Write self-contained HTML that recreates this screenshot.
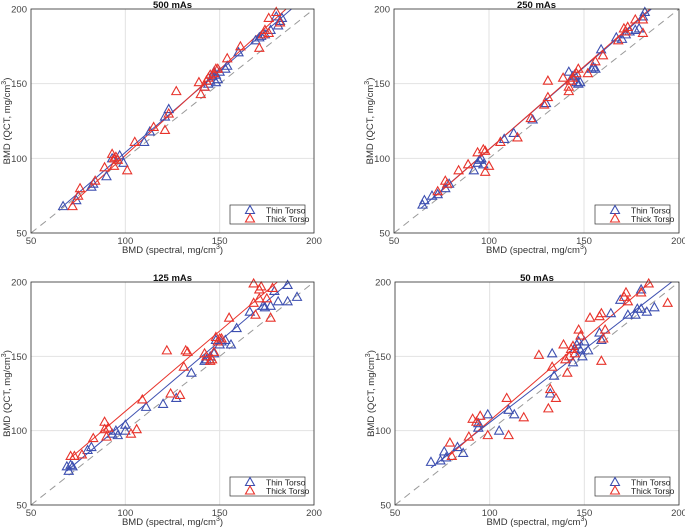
<!DOCTYPE html>
<html><head><meta charset="utf-8"><style>
body{margin:0;background:#fff;}
svg{display:block;font-family:"Liberation Sans",Arial,sans-serif;}
</style></head><body>
<svg id="chart" width="685" height="530" viewBox="0 0 685 530" xmlns="http://www.w3.org/2000/svg"></svg>
<script>
const titles = ["500 mAs","250 mAs","125 mAs","50 mAs"];
const ticks = [50,100,150,200];
// 500 mAs
const thin500X = [67,74,82,83,90,93,97,99,110,113,121,123,142,144,145,146,147,148,148,149,150,153,154,160,169,171,172,174,177,181,182,183,180];
const thin500Y = [68,72,81,83,88,100,102,97,111,118,128,133,148,150,152,155,158,156,151,153,158,160,162,171,179,181,182,183,186,189,192,194,195];
const thick500X = [72,75,76,84,89,93,94,95,96,94,101,105,115,121,123,127,139,140,142,143,144,145,147,148,149,154,161,171,173,174,176,176,180,182];
const thick500Y = [68,75,80,85,94,103,100,101,99,95,92,111,121,119,130,145,151,143,148,152,154,156,157,160,160,167,175,174,183,186,184,194,198,191];
// 250 mAs
const thin250X = [65,66,70,73,77,79,92,94,95,96,97,108,113,123,130,142,144,145,146,147,148,154,155,156,159,167,170,172,174,177,179,181,182];
const thin250Y = [69,72,75,76,80,83,92,97,99,100,96,113,117,126,137,158,155,156,151,150,151,160,161,160,173,181,180,183,185,186,187,195,198];
const thick250X = [73,77,78,84,89,94,97,98,98,100,106,115,122,129,131,131,139,142,142,143,144,146,147,152,156,160,168,171,172,173,177,181,181];
const thick250Y = [78,85,83,92,96,104,106,105,91,95,111,114,127,136,141,152,154,145,148,152,154,157,160,157,165,169,179,187,185,188,193,193,184];
// 125 mAs
const thin125X = [69,70,71,72,80,82,93,95,96,100,100,111,120,127,135,142,143,145,147,148,150,151,153,156,159,166,173,174,177,179,181,186,186,191];
const thin125Y = [76,73,77,76,87,89,98,100,97,100,104,116,118,122,139,147,148,150,152,161,158,160,161,158,169,180,184,183,184,194,187,187,198,190];
const thick125X = [71,73,77,83,89,89,90,91,103,106,109,122,124,129,131,132,133,142,143,145,146,147,148,149,150,151,155,168,168,169,171,171,172,175,177,178];
const thick125Y = [83,83,84,95,101,106,96,102,98,101,121,154,125,124,143,154,153,152,150,147,148,153,163,160,162,162,176,186,199,178,189,195,197,189,176,196];
// 50 mAs
const thin50X = [69,74,76,77,83,86,94,94,99,105,110,113,132,133,134,144,145,146,147,148,149,150,152,158,159,164,169,173,177,178,180,180,183,187];
const thin50Y = [79,80,86,82,89,85,102,105,111,100,114,111,125,152,137,146,155,158,160,154,150,160,154,166,161,179,188,178,178,182,182,195,180,183];
const thick50X = [79,80,89,91,93,95,99,109,110,118,126,131,132,133,135,139,140,141,142,143,144,145,147,148,153,158,159,159,160,161,171,172,173,180,184,194];
const thick50Y = [92,83,96,108,106,110,97,122,97,109,151,115,128,143,122,158,148,139,150,155,157,152,168,164,176,177,179,147,162,168,190,193,187,193,199,186];
// linear fits: slope, intercept, x start
const thinSlope = [1.09,1.10,1.077,0.983];
const thinIntercept = [-5,-4,-1.4,7.2];
const thinStart = [66,64,69,69];
const thickSlope = [1.15,1.11,1.08,1.097];
const thickIntercept = [-13,-5,5,-3];
const thickStart = [71,72,71,79];

const thinXs=[thin500X,thin250X,thin125X,thin50X], thinYs=[thin500Y,thin250Y,thin125Y,thin50Y];
const thickXs=[thick500X,thick250X,thick125X,thick50X], thickYs=[thick500Y,thick250Y,thick125Y,thick50Y];
const boxes=[[31,314,9,233],[394,679,9,233],[31,314,282,505],[395,679,282,505]];
const BLUE="#3d4fb0", RED="#e8332b";
const NS="http://www.w3.org/2000/svg";
const svg=document.getElementById('chart');
function mk(tag,attrs,parent){const e=document.createElementNS(NS,tag);for(const k in attrs)e.setAttribute(k,attrs[k]);(parent||svg).appendChild(e);return e;}
function tri(g,cx,cy,col){return mk('path',{d:`M${cx-4.5},${cy+3.5}L${cx+4.5},${cy+3.5}L${cx},${cy-4.5}Z`,fill:'none',stroke:col,'stroke-width':1.1},g);}
for(let p=0;p<4;p++){
  const [L,R,T,B]=boxes[p];
  const sx=v=>L+(v-50)/150*(R-L), sy=v=>B-(v-50)/150*(B-T);
  const g=mk('g',{});
  
  
  mk('rect',{x:L,y:T,width:R-L,height:B-T,fill:'#fff'},g);
  ticks.forEach(t=>{
    mk('line',{x1:sx(t),x2:sx(t),y1:T,y2:B,stroke:'#e2e2e2','stroke-width':1},g);
    mk('line',{x1:L,x2:R,y1:sy(t),y2:sy(t),stroke:'#e2e2e2','stroke-width':1},g);
    const xt=mk('text',{x:sx(t),y:B+11,'font-size':9.5,fill:'#444','text-anchor':'middle'},g);xt.textContent=t;
    
    
    const yt=mk('text',{x:L-4,y:sy(t)+3.5,'font-size':9.5,fill:'#444','text-anchor':'end'},g);yt.textContent=t;
    
    
  });
  const id=mk('line',{x1:sx(50),y1:sy(50),x2:sx(200),y2:sy(200),stroke:'#999','stroke-width':1,'stroke-dasharray':'7,5'},g);
  
  
  const fits=[[thinSlope[p],thinIntercept[p],thinStart[p],BLUE,'thin-fit-line'],[thickSlope[p],thickIntercept[p],thickStart[p],RED,'thick-fit-line']];
  fits.forEach(([m,b,x0,c,n])=>{
    let x1=(200-b)/m; if(x1>200)x1=200;
    const ln=mk('line',{x1:sx(x0),y1:sy(m*x0+b),x2:sx(x1),y2:sy(m*x1+b),stroke:c,'stroke-width':1},g);
    
    
  });
  thinXs[p].forEach((x,i)=>{const t=tri(g,sx(x),sy(thinYs[p][i]),BLUE);
    
    });
  thickXs[p].forEach((x,i)=>{const t=tri(g,sx(x),sy(thickYs[p][i]),RED);
    
    });
  mk('rect',{x:L,y:T,width:R-L,height:B-T,fill:'none',stroke:'#333','stroke-width':0.8},g);
  const ti=mk('text',{x:(L+R)/2,y:T-1,'font-size':9.5,'font-weight':'bold','text-anchor':'middle',fill:'#111'},g);ti.textContent=titles[p];
  
  
  const xl=mk('text',{x:(L+R)/2,y:B+20,'font-size':9.5,'text-anchor':'middle',fill:'#333'},g);
  xl.innerHTML='BMD (spectral, mg/cm<tspan dy="-4" font-size="7">3</tspan><tspan dy="4">)</tspan>';
  
  
  const yl=mk('text',{x:0,y:0,'font-size':9.5,'text-anchor':'middle',fill:'#333',transform:`translate(${L-21},${(T+B)/2}) rotate(-90)`},g);
  yl.innerHTML='BMD (QCT, mg/cm<tspan dy="-4" font-size="7">3</tspan><tspan dy="4">)</tspan>';
  
  
  const lg=mk('g',{},g);
  
  
  const lx=R-84, ly=B-28;
  mk('rect',{x:lx,y:ly,width:75,height:19,fill:'#fff',stroke:'#333','stroke-width':0.7},lg);
  tri(lg,lx+20,ly+5,BLUE); tri(lg,lx+20,ly+13.5,RED);
  const e1=mk('text',{x:lx+36,y:ly+8.5,'font-size':8.5,fill:'#222'},lg);e1.textContent='Thin Torso';
  
  
  const e2=mk('text',{x:lx+36,y:ly+17,'font-size':8.5,fill:'#222'},lg);e2.textContent='Thick Torso';
  
  
}
</script>
</body></html>
